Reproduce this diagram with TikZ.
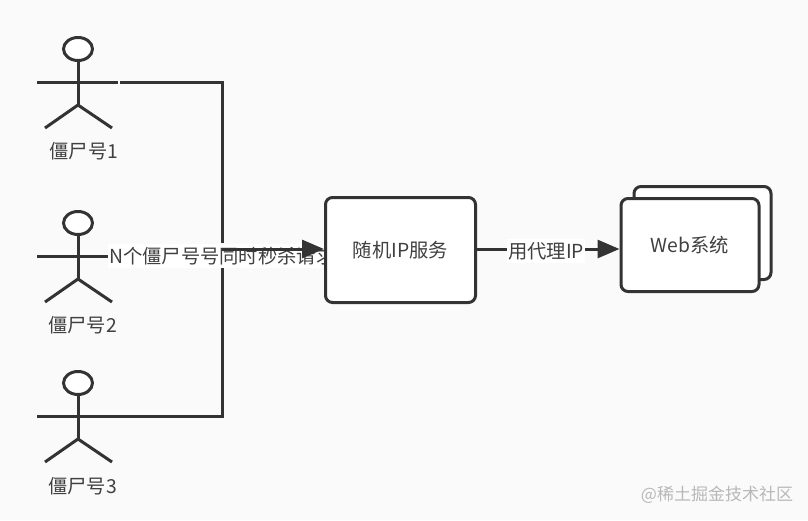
\documentclass[tikz,border=0pt]{standalone}
\usepackage{fontspec}
\setmainfont{Noto Sans CJK SC}
\usetikzlibrary{arrows.meta,shapes.geometric}
\definecolor{ink}{HTML}{333333}
\definecolor{txt}{HTML}{404040}
\definecolor{bg}{HTML}{FAFAFA}
\tikzset{
  x=1pt,y=-1pt,
  line/.style={draw=ink,line width=3pt},
  boxnode/.style={draw=ink,line width=3pt,fill=white,rounded corners=7pt,inner sep=0pt,anchor=north west},
  label/.style={font=\fontsize{19.3pt}{22pt}\selectfont,text=txt,inner sep=0pt},
  edge label/.style={label,fill=white,inner xsep=1pt,inner ysep=3pt},
  head/.style={draw=ink,line width=3pt,fill=white,ellipse,minimum width=29pt,minimum height=23pt,inner sep=0pt},
  tip/.style={-{Triangle[length=22pt,width=18pt]}},
}
\newcommand{\stickman}[2]{% name, arm y
  \node[head] (#1h) at (78,#2-33) {};
  \coordinate (#1n) at (78,#2);
  \coordinate (#1l) at (37,#2);
  \coordinate (#1r) at (118,#2);
  \coordinate (#1c) at (78,#2+23);
  \coordinate (#1a) at (45,#2+46);
  \coordinate (#1b) at (112,#2+46);
  \draw[line] (#1h.south) -- (#1c);
  \draw[line] (#1l) -- (#1r);
  \draw[line] (#1a) -- (#1c) -- (#1b);
}
\begin{document}
\begin{tikzpicture}
\useasboundingbox (0,0) rectangle (808,520);
\fill[bg] (0,0) rectangle (808,520);
\stickman{A}{82}
\stickman{B}{256}
\stickman{C}{416}
\node[label] (la) at (84,151) {僵尸号1};
\node[label] (lb) at (82.5,325) {僵尸号2};
\node[label] (lc) at (82.5,486) {僵尸号3};

\coordinate (top) at (222,82);
\coordinate (bot) at (222,416);
\coordinate (mid) at (222,249);
\coordinate (gap) at (222,243);
\draw[line] (Ar) ++(2,0) -- (top) -- (gap);
\draw[line] (Cr) -- (bot) -- (mid);

\node[edge label,anchor=west] (nreq) at (108,256) {N个僵尸号号同时秒杀请求};
\node[boxnode,minimum width=150pt,minimum height=105pt] (svc) at (324,196) {};
\node[label] at (svc.center) {随机IP服务};
\draw[line,tip] (mid) -- (svc.west |- mid);

\node[boxnode,minimum width=137pt,minimum height=93pt] (webb) at (632.5,185) {};
\node[boxnode,minimum width=138pt,minimum height=93pt] (web) at (619.5,197) {};
\node[label] at (web.center) {Web系统};
\coordinate (svcr) at (svc.east |- 0,249);
\coordinate (webl) at (web.west |- 0,249);
\draw[line,tip] (svcr) -- (webl);
\node[edge label] (proxy) at (546,251) {用代理IP};
\node[font=\fontsize{17pt}{20pt}\selectfont,text=black!28,inner sep=0pt] (mark) at (717,495) {@稀土掘金技术社区};
\end{tikzpicture}
\end{document}
